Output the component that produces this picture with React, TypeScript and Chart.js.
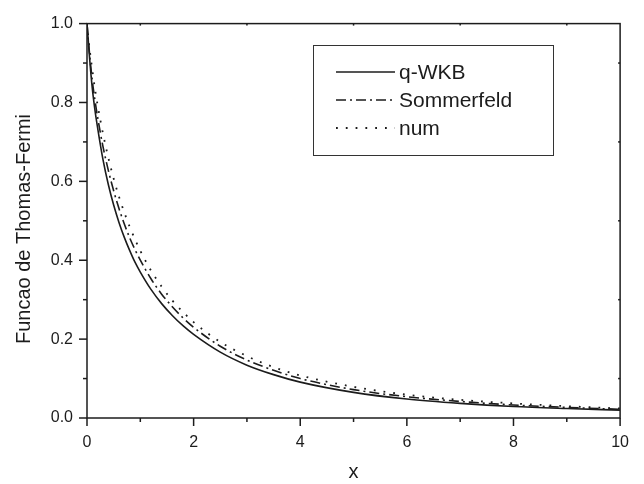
import React, { useEffect, useRef } from "react";
import { Chart, registerables } from "chart.js";

Chart.register(...registerables);

const X_VALUES = [0, 0.05, 0.1, 0.15, 0.2, 0.3, 0.4, 0.5, 0.6, 0.7, 0.8, 0.9, 1.0, 1.2, 1.4, 1.6, 1.8, 2.0, 2.5, 3.0, 3.5, 4, 5, 6, 7, 8, 9, 10];
const Q_WKB = [1, 0.91, 0.835, 0.78, 0.735, 0.655, 0.592, 0.54, 0.496, 0.458, 0.425, 0.395, 0.37, 0.326, 0.29, 0.26, 0.234, 0.212, 0.167, 0.134, 0.11, 0.091, 0.065, 0.048, 0.037, 0.029, 0.024, 0.02];
const SOMMERFELD = [1, 0.92, 0.855, 0.805, 0.762, 0.688, 0.628, 0.576, 0.531, 0.492, 0.457, 0.427, 0.4, 0.353, 0.314, 0.282, 0.254, 0.23, 0.182, 0.147, 0.121, 0.1, 0.072, 0.054, 0.042, 0.033, 0.027, 0.022];
const NUM = [1, 0.935, 0.882, 0.834, 0.793, 0.721, 0.66, 0.607, 0.561, 0.521, 0.485, 0.453, 0.424, 0.374, 0.333, 0.298, 0.269, 0.243, 0.193, 0.157, 0.129, 0.108, 0.079, 0.059, 0.046, 0.037, 0.03, 0.024];
const SERIES_LABELS = ["q-WKB", "Sommerfeld", "num"];
const X_MAJOR = [0, 2, 4, 6, 8, 10];
const X_MINOR = [1, 3, 5, 7, 9];
const Y_MAJOR = [0, 0.2, 0.4, 0.6, 0.8, 1.0];
const Y_MINOR = [0.1, 0.3, 0.5, 0.7, 0.9];
const X_TITLE = "x";
const Y_TITLE = "Funcao de Thomas-Fermi";

const FONT = '"Liberation Sans", Arial, Helvetica, sans-serif';
const INK = "#1c1c1c";

const decorPlugin = {
  id: "decor",
  afterDatasetsDraw(chart: any) {
    const { ctx, chartArea: a, scales } = chart;
    const xs = scales.x;
    const ys = scales.y;
    ctx.save();
    ctx.strokeStyle = INK;
    ctx.lineWidth = 1.5;
    ctx.setLineDash([]);
    ctx.strokeRect(a.left, a.top, a.right - a.left, a.bottom - a.top);
    const seg = (x1: number, y1: number, x2: number, y2: number) => {
      ctx.beginPath();
      ctx.moveTo(x1, y1);
      ctx.lineTo(x2, y2);
      ctx.stroke();
    };
    X_MAJOR.forEach((v) => {
      const p = xs.getPixelForValue(v);
      seg(p, a.bottom, p, a.bottom + 8);
    });
    X_MINOR.forEach((v) => {
      const p = xs.getPixelForValue(v);
      seg(p, a.bottom, p, a.bottom + 4);
      seg(p, a.top, p, a.top + 2);
    });
    Y_MAJOR.forEach((v) => {
      const p = ys.getPixelForValue(v);
      seg(a.left - 8, p, a.left, p);
    });
    Y_MINOR.forEach((v) => {
      const p = ys.getPixelForValue(v);
      seg(a.left - 4, p, a.left, p);
      seg(a.right - 2, p, a.right, p);
    });

    // legend
    const lx = 313, ly = 45, lw = 240, lh = 110;
    ctx.fillStyle = "#ffffff";
    ctx.fillRect(lx, ly, lw, lh);
    ctx.lineWidth = 1;
    ctx.strokeStyle = "#333";
    ctx.strokeRect(lx + 0.5, ly + 0.5, lw, lh);
    const rows = [72, 100, 128];
    chart.data.datasets.forEach((ds: any, i: number) => {
      const y = rows[i];
      ctx.strokeStyle = INK;
      ctx.lineWidth = ds.borderWidth;
      ctx.setLineDash(ds.borderDash || []);
      seg(336, y, 395, y);
      ctx.setLineDash([]);
      ctx.fillStyle = INK;
      ctx.font = `21px ${FONT}`;
      ctx.textAlign = "left";
      ctx.textBaseline = "middle";
      ctx.fillText(ds.label, 399, y + 1);
    });

    // y title
    ctx.save();
    ctx.translate(24, 229);
    ctx.rotate(-Math.PI / 2);
    ctx.fillStyle = INK;
    ctx.font = `20px ${FONT}`;
    ctx.textAlign = "center";
    ctx.textBaseline = "middle";
    ctx.fillText(Y_TITLE, 0, 0);
    ctx.restore();
    ctx.restore();
  },
};

export default function App() {
  const ref = useRef<HTMLCanvasElement | null>(null);
  useEffect(() => {
    if (!ref.current) return;
    const mk = (vals: number[]) => X_VALUES.map((x, i) => ({ x, y: vals[i] }));
    const chart = new Chart(ref.current, {
      type: "line",
      data: {
        datasets: [
          { label: SERIES_LABELS[0], data: mk(Q_WKB), borderColor: INK, borderWidth: 1.6, borderDash: [], pointRadius: 0, cubicInterpolationMode: "monotone", fill: false },
          { label: SERIES_LABELS[1], data: mk(SOMMERFELD), borderColor: INK, borderWidth: 1.6, borderDash: [10, 4, 2, 4], pointRadius: 0, cubicInterpolationMode: "monotone", fill: false },
          { label: SERIES_LABELS[2], data: mk(NUM), borderColor: INK, borderWidth: 1.8, borderDash: [1.8, 8], pointRadius: 0, cubicInterpolationMode: "monotone", fill: false },
        ],
      },
      options: {
        animation: false,
        responsive: false,
        maintainAspectRatio: false,
        layout: { padding: { left: 0, right: 22, top: 14, bottom: 0 } },
        plugins: { legend: { display: false }, tooltip: { enabled: false } },
        scales: {
          x: {
            type: "linear",
            min: 0,
            max: 10,
            grid: { display: false, drawTicks: false },
            border: { display: false },
            ticks: { stepSize: 2, padding: 15, color: INK, font: { family: FONT, size: 16 } },
            title: { display: true, text: X_TITLE, color: INK, font: { family: FONT, size: 20 }, padding: { top: 0, bottom: 0 } },
            afterFit: (s: any) => { s.height = 66; },
          },
          y: {
            type: "linear",
            min: 0,
            max: 1,
            grid: { display: false, drawTicks: false },
            border: { display: false },
            ticks: { stepSize: 0.2, padding: 14, color: INK, font: { family: FONT, size: 16 }, callback: (v: any) => Number(v).toFixed(1) },
            afterFit: (s: any) => { s.width = 87; },
          },
        },
      },
      plugins: [decorPlugin],
    } as any);
    return () => chart.destroy();
  }, []);
  return (
    <div style={{ position: "fixed", left: 0, top: 0, width: 644, height: 484, background: "#fff" }}>
      <canvas ref={ref} width={644} height={484} style={{ width: 644, height: 484 }} />
    </div>
  );
}
